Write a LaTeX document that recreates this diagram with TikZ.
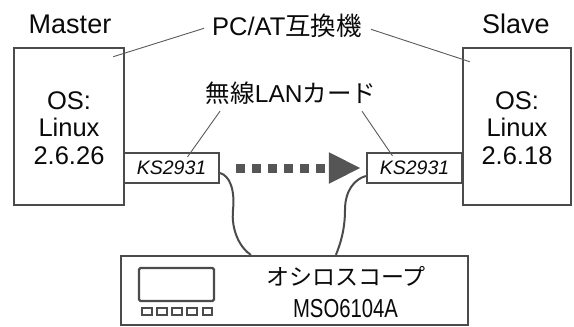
\documentclass[tikz,border=0pt]{standalone}
\usepackage{fontspec}
\usepackage{graphicx}
\setmainfont{Liberation Sans}
\newfontfamily\cjk{Noto Sans CJK JP}
\usetikzlibrary{arrows.meta,calc}
\definecolor{linegray}{RGB}{75,75,75}
\definecolor{leadgray}{RGB}{90,90,90}
\definecolor{arrowgray}{RGB}{85,85,85}
\definecolor{txt}{RGB}{10,10,10}
\begin{document}
\begin{tikzpicture}[x=1pt,y=-1pt,
  pcbox/.style={draw=linegray, line width=2.6pt, fill=white, inner sep=0pt},
  ksbox/.style={draw=linegray, line width=2.2pt, fill=white, inner sep=0pt,
    font=\itshape\fontsize{19.5}{20}\selectfont, text=txt},
  oscbox/.style={draw=linegray, line width=2.2pt, fill=white, inner sep=0pt},
  screen/.style={draw=linegray, line width=2.2pt, rounded corners=1.5pt, inner sep=0pt},
  button/.style={draw=linegray, line width=1.7pt, inner sep=0pt, minimum width=9.5pt, minimum height=7pt},
  title/.style={font=\fontsize{27}{27}\selectfont, text=txt, inner sep=0pt},
  ostext/.style={font=\fontsize{25.5}{27.5}\selectfont, text=txt, align=center, inner sep=0pt},
  lbl/.style={font=\fontsize{24.5}{25}\selectfont, text=txt, inner sep=0pt},
  lead/.style={draw=leadgray, line width=0.9pt},
  cable/.style={draw=linegray, line width=2pt},
  flow/.style={draw=arrowgray, line width=9pt, dash pattern=on 9pt off 7pt,
    shorten <=16pt, shorten >=5pt, -{Triangle[length=32pt,width=29pt]}}
]
\useasboundingbox (0,0) rectangle (574,327);

% PCs
\node[pcbox, minimum width=110pt, minimum height=157pt] (master) at (69,126.5) {};
\node[pcbox, minimum width=108pt, minimum height=157pt] (slave) at (517,126.5) {};
\node[title, anchor=base] (mastert) at (70,33) {Master};
\node[title, anchor=base] (slavet) at (516,33) {Slave};
\node[ostext] (masteros) at (69,128) {OS:\\Linux\\2.6.26};
\node[ostext] (slaveos) at (517,128) {OS:\\Linux\\2.6.18};

% wireless cards
\node[ksbox, minimum width=95pt, minimum height=30pt] (ksl) at (171.5,168) {KS2931};
\node[ksbox, minimum width=95pt, minimum height=30pt] (ksr) at (414.5,168) {KS2931};

% labels
\node[lbl, anchor=base, font=\fontsize{25.5}{26}\selectfont] (pc) at (287,35) {PC/AT{\cjk 互換機}};
\node[lbl, anchor=base] (lan) at (291,102) {{\cjk 無線}LAN{\cjk カード}};
\draw[lead] ($(pc.west)+(-8,3)$) -- ($(master.north east)+(-12,10)$);
\draw[lead] ($(pc.east)+(9,4)$) -- ($(slave.north west)+(8,15)$);
\draw[lead] ($(lan.south)+(-71,7)$) -- ($(ksl.north)+(16,5)$);
\draw[lead] ($(lan.south)+(71,7)$) -- ($(ksr.north)+(-22,4)$);

% wireless flow
\draw[flow] (ksl.east) -- (ksr.west);

% oscilloscope
\node[oscbox, minimum width=347pt, minimum height=69pt] (osc) at (294.5,290.5) {};
\node[screen, minimum width=75pt, minimum height=33pt] (scr) at (176.5,284.5) {};
\foreach \i/\bx in {1/147,2/162,3/177,4/192,5/207.5}
  \node[button] (btn\i) at (\bx,311.5) {};
\node[anchor=base, font=\cjk\fontsize{23}{23}\selectfont, text=txt, inner sep=0pt] (osct) at (346,285) {オシロスコープ};
\node[anchor=base, font=\fontsize{26}{26}\selectfont, text=txt, inner sep=0pt] (model) at (345.5,317) {\scalebox{0.78}[1]{MSO6104A}};

% probe cables
\draw[cable] ($(ksl.east)+(0,5)$) .. controls (230,176) and (235,190) .. (233,210)
  .. controls (231,230) and (240,248) .. ($(osc.north west)+(131,0)$);
\draw[cable] ($(ksr.west)+(0,8)$) .. controls (355,179) and (345,190) .. (345,210)
  .. controls (345,230) and (340,245) .. ($(osc.north west)+(216,0)$);
\end{tikzpicture}
\end{document}
